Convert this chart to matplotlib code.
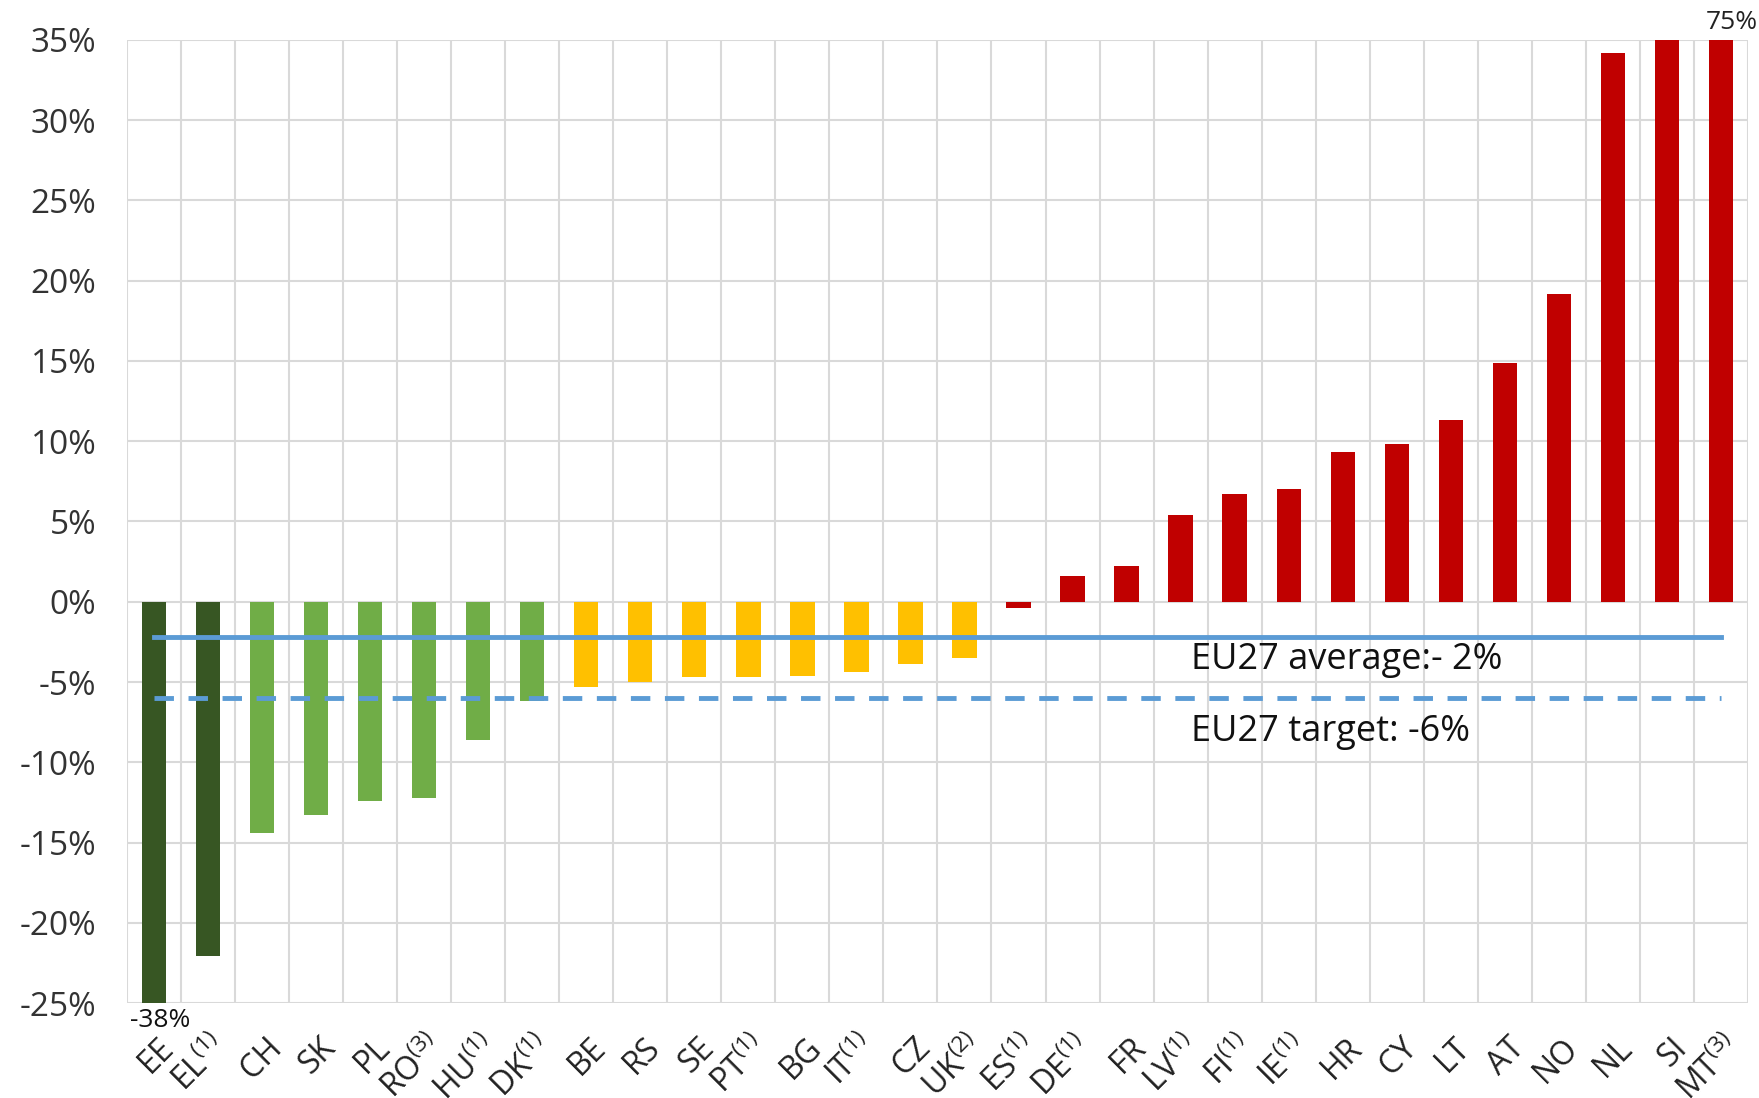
import numpy as np
import matplotlib.pyplot as plt

plt.rcParams['font.family'] = ['Open Sans', 'DejaVu Sans']
plt.rcParams['mathtext.fontset'] = 'custom'
plt.rcParams['mathtext.rm'] = 'Open Sans'
plt.rcParams['mathtext.it'] = 'Open Sans:italic'

# country codes and footnote marks
countries = ["EE", "EL", "CH", "SK", "PL", "RO", "HU", "DK", "BE", "RS",
             "SE", "PT", "BG", "IT", "CZ", "UK", "ES", "DE", "FR", "LV",
             "FI", "IE", "HR", "CY", "LT", "AT", "NO", "NL", "SI", "MT"]
notes = ["", "1", "", "", "", "3", "1", "1", "", "",
         "", "1", "", "1", "", "2", "1", "1", "", "1",
         "1", "1", "", "", "", "", "", "", "", "3"]
values = [-38, -22.1, -14.4, -13.3, -12.4, -12.2, -8.6, -6.2, -5.3, -5.0,
          -4.7, -4.7, -4.6, -4.4, -3.9, -3.5, -0.4, 1.6, 2.2, 5.4,
          6.7, 7.0, 9.3, 9.8, 11.3, 14.9, 19.2, 34.2, 35.0, 75]
groups = ["dark"] * 2 + ["green"] * 6 + ["yellow"] * 8 + ["red"] * 14
eu_average = -2.2
eu_target = -6.0

colors = {"dark": "#375623", "green": "#70AD47", "yellow": "#FFC000", "red": "#C00000"}

fig = plt.figure(figsize=(17.59, 10.98), dpi=100)
ax = fig.add_axes([0.0722, 0.0865, 0.9215, 0.8771])

x = np.arange(len(countries))
ymin, ymax = -25, 35
shown = np.clip(values, ymin, ymax)
ax.bar(x, shown, width=0.45, color=[colors[g] for g in groups], zorder=3)

ax.plot([x[0], x[-1]], [eu_average, eu_average], color="#5B9BD5", lw=3.5, zorder=4)
ax.plot([x[0], x[-1]], [eu_target, eu_target], color="#5B9BD5", lw=3.5,
        linestyle=(0, (4, 3)), zorder=4)
ax.text(19.2, -3.65, "EU27 average:- 2%", fontsize=26, va="center", color="#111111")
ax.text(19.2, -8.1, "EU27 target: -6%", fontsize=26, va="center", color="#111111")

# labels for the clipped bars
ax.text(0.12, ymin - 0.3, "%d%%" % values[0], ha="center", va="top", fontsize=19,
        color="#111111", clip_on=False)
ax.text(29.2, ymax + 0.3, "%d%%" % values[-1], ha="center", va="bottom", fontsize=19,
        color="#222222", clip_on=False)

ax.set_xlim(-0.5, len(countries) - 0.5)
ax.set_ylim(ymin, ymax)
ax.set_yticks(np.arange(ymin, ymax + 1, 5))
ax.set_yticklabels(["%d%%" % v for v in np.arange(ymin, ymax + 1, 5)])

# category labels, rotated, anchored on their baseline so footnotes don't shift them
labels = [c + (r"$^{\mathit{(%s)}}$" % n if n else "") for c, n in zip(countries, notes)]
ax.set_xticks(x)
ax.set_xticklabels([])
for xi, lab in zip(x, labels):
    ax.annotate(lab, xy=(xi, 0), xycoords=ax.get_xaxis_transform(),
                xytext=(15, -33), textcoords="offset points",
                rotation=45, ha="right", va="baseline", rotation_mode="anchor",
                fontsize=23, color="#222222", annotation_clip=False)
ax.set_xticks(np.arange(-0.5, len(countries)), minor=True)

ax.grid(axis="y", which="major", color="#d9d9d9", lw=1.5, zorder=0)
ax.grid(axis="x", which="minor", color="#d9d9d9", lw=1.5, zorder=0)
ax.tick_params(axis="both", which="both", length=0)
ax.tick_params(axis="y", labelsize=24, labelcolor="#333333", pad=22)
for s in ax.spines.values():
    s.set_visible(False)

fig.savefig("out.png", dpi=100)
